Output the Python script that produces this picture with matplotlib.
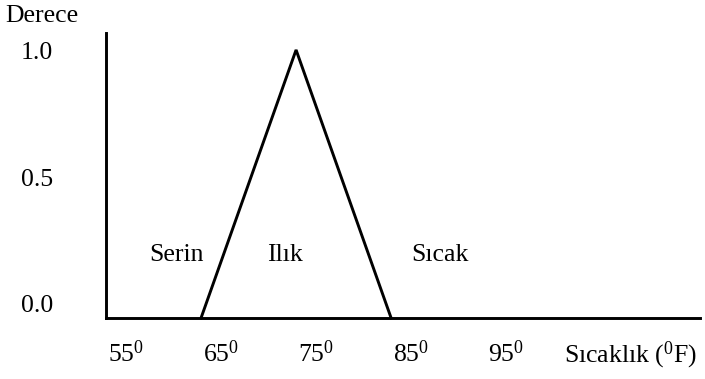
import matplotlib
matplotlib.use("Agg")
import matplotlib.pyplot as plt

plt.rcParams["font.family"] = ["Liberation Serif", "DejaVu Serif"]
plt.rcParams["mathtext.fontset"] = "custom"
plt.rcParams["mathtext.rm"] = "Liberation Serif"
plt.rcParams["mathtext.it"] = "Liberation Serif:italic"

# Membership function for "Ilık" (warm)
ilik_x = [65, 75, 85]
ilik_y = [0.0, 1.0, 0.0]

# Baseline of zero membership across the range
base_x = [55, 117.5]
base_y = [0.0, 0.0]

x_ticks = [55, 65, 75, 85, 95]
y_ticks = [0.0, 0.5, 1.0]
y_tick_labels = ["0.0", "0.5", "1.0"]

region_labels = ["Serin", "Ilık", "Sıcak"]
region_x = [59.5, 71.9, 87.1]
region_y = 0.235

fig = plt.figure(figsize=(7.05, 3.79), dpi=100)
ax = fig.add_axes([106 / 705, 1 - 318 / 379, (700 - 106) / 705, (318 - 33) / 379])
ax.set_xlim(55, 117.5)
ax.set_ylim(0.0, 1.063)

lw = 2.1
ax.plot(ilik_x, ilik_y, color="black", lw=lw, solid_joinstyle="miter",
        clip_on=False)
ax.plot(base_x, base_y, color="black", lw=lw, solid_capstyle="projecting",
        clip_on=False)

for s in ["top", "right", "bottom"]:
    ax.spines[s].set_visible(False)
ax.spines["left"].set_linewidth(lw)
ax.spines["left"].set_capstyle("projecting")
ax.set_xticks([])
ax.set_yticks([])

fs = 18.5
# y tick labels, nudged slightly as set in the original figure
y_nudge = [12, 4, -3]
for v, lab, dy in zip(y_ticks, y_tick_labels, y_nudge):
    ax.annotate(lab, xy=(0, v), xycoords=("axes fraction", "data"),
                xytext=(-85, dy), textcoords="offset pixels",
                ha="left", va="center", fontsize=fs)

# x tick labels with superscript degree mark
for v in x_ticks:
    ax.annotate(f"{v}" + r"$^\mathrm{0}$", xy=(v, 0), xycoords="data",
                xytext=(2, -36), textcoords="offset pixels",
                ha="left", va="center", fontsize=fs)

for lab, x in zip(region_labels, region_x):
    ax.text(x, region_y, lab, ha="left", va="center", fontsize=fs)

fig.text(5 / 705, 1 - 16 / 379, "Derece", ha="left", va="center", fontsize=fs)
fig.text(697 / 705, 1 - 355 / 379, r"Sıcaklık ($^\mathrm{0}$F)",
         ha="right", va="center", fontsize=fs)

fig.savefig("out.png", dpi=100)
